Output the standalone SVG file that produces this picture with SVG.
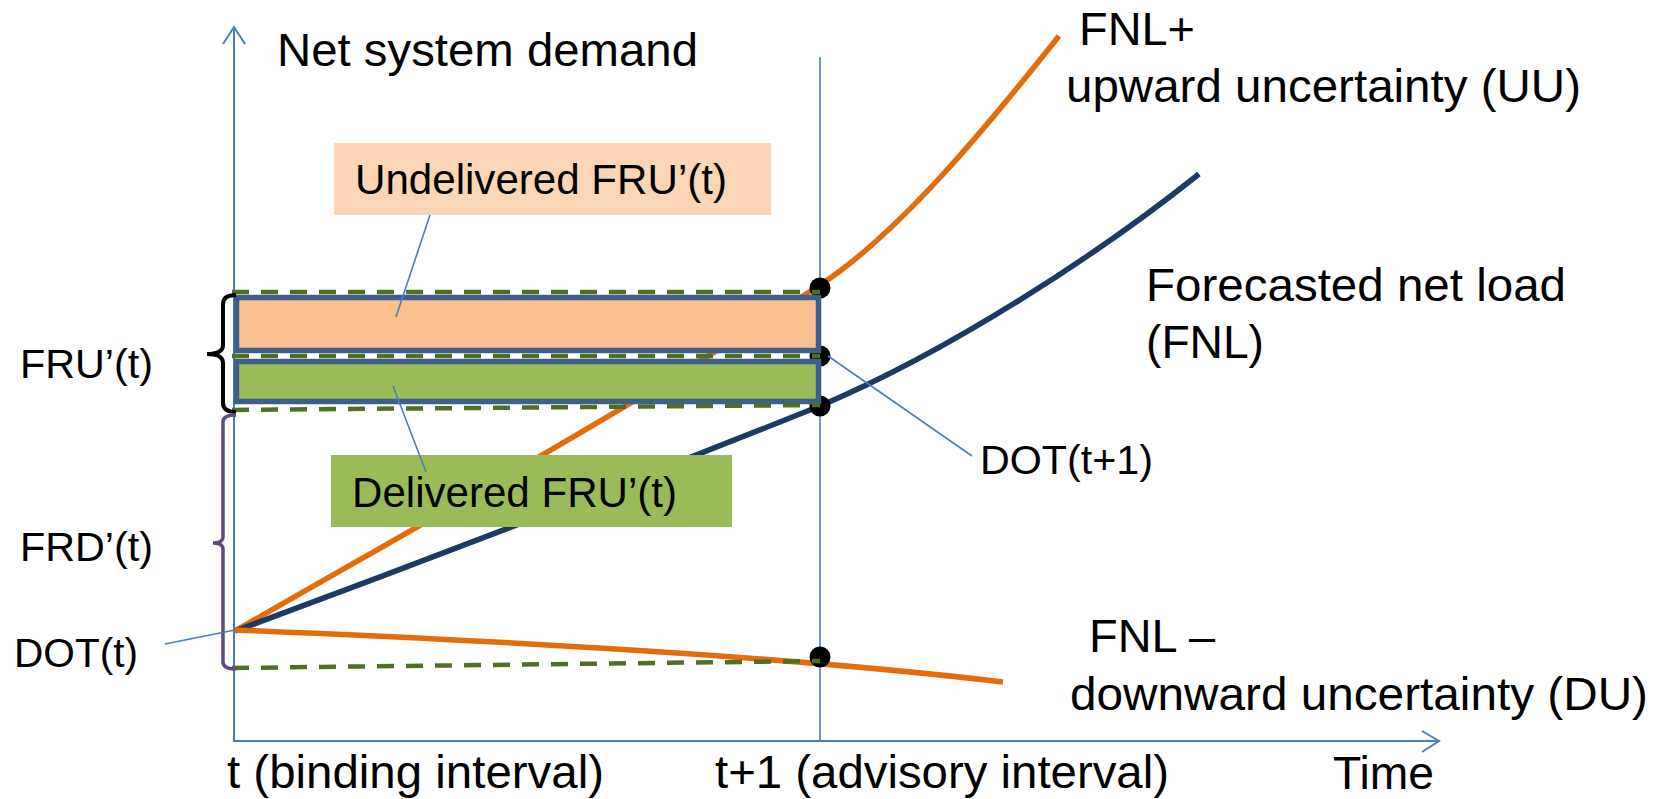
<svg xmlns="http://www.w3.org/2000/svg" width="1667" height="799" viewBox="0 0 1667 799">
<style>
text{font-family:"Liberation Sans",Arial,sans-serif;fill:#000}
.big{font-size:47px}
.mid{font-size:42px}
.sm{font-size:41px}
.axis{stroke:#4a7ebb;stroke-width:2;fill:none}
.lead{stroke:#4a7ebb;stroke-width:1.6;fill:none}
.dash{stroke:#4e7023;stroke-width:4.5;stroke-dasharray:17 12;fill:none}
.orange{stroke:#e46c0a;stroke-width:5.5;fill:none}
.navy{stroke:#1c3a64;stroke-width:5.5;fill:none}
.bar{stroke:#3d5f8a;stroke-width:5.5}
.dot{fill:#000}
</style>
<g id="axes">
<path class="axis" d="M234,741 L234,28"/>
<path class="axis" d="M223,44 L234,27 L245,44"/>
<path class="axis" d="M233,741 L1438,741"/>
<path class="axis" d="M1422,731 L1439,741 L1422,752"/>
<path class="axis" d="M820,57 L820,741" style="stroke-width:1.6"/>
</g>
<g id="curves">
<path id="fnl-up" class="orange" d="M235,631 C430,519 625,412 820,285 C900,233 989,124 1059,36"/>
<path id="fnl" class="navy" d="M235,631 C430,559 625,484 820,406 C950,351 1099,254 1199,174"/>
<path id="fnl-down" class="orange" d="M235,630 Q735,650 1003,682"/>
</g>
<g id="dots">
<circle class="dot" cx="820" cy="288" r="10.5"/>
<circle class="dot" cx="820" cy="356" r="10.5"/>
<circle class="dot" cx="820" cy="406" r="10.5"/>
<circle class="dot" cx="820" cy="657" r="10.5"/>
</g>
<g id="undelivered-bar"><rect class="bar" x="236.5" y="297.5" width="582" height="53" fill="#fac090"/></g>
<g id="delivered-bar"><rect class="bar" x="236.5" y="361.5" width="582" height="40" fill="#9bbb59"/></g>
<g id="dashed-levels">
<path class="dash" d="M232,292 L820,292"/>
<path class="dash" d="M232,356 L820,356"/>
<path class="dash" d="M232,410 L820,405"/>
<path class="dash" d="M232,668 L820,661"/>
</g>
<g id="braces">
<path d="M236,295 Q223,295 223,304 L223,345 Q223,354 207,354 Q223,354 223,363 L223,403 Q223,412 236,412" fill="none" stroke="#000" stroke-width="4"/>
<path d="M236,415 Q223,415 223,422 L223,537 Q223,543 213,543 Q223,543 223,549 L223,662 Q223,669 236,669" fill="none" stroke="#604a7b" stroke-width="3.5"/>
</g>
<g id="label-undelivered">
<rect x="334" y="143" width="437" height="72" fill="#fcd5b5"/>
<text class="mid" x="355" y="194" textLength="372" lengthAdjust="spacingAndGlyphs">Undelivered FRU’(t)</text>
</g>
<g id="label-delivered">
<rect x="331" y="455" width="401" height="72" fill="#9bbb59"/>
<text class="mid" x="352" y="507" textLength="325" lengthAdjust="spacingAndGlyphs">Delivered FRU’(t)</text>
</g>
<g id="leaders">
<path class="lead" d="M430,215 L396,317"/>
<path class="lead" d="M393,386 L426,472"/>
<path class="lead" d="M828,356 L972,456"/>
<path class="lead" d="M165,644 L235,630"/>
</g>
<g id="labels">
<text class="big" x="277" y="66" textLength="421" lengthAdjust="spacingAndGlyphs">Net system demand</text>
<text class="big" x="1079" y="45" textLength="116" lengthAdjust="spacingAndGlyphs">FNL+</text>
<text class="big" x="1066" y="102" textLength="515" lengthAdjust="spacingAndGlyphs">upward uncertainty (UU)</text>
<text class="big" x="1146" y="301" textLength="420" lengthAdjust="spacingAndGlyphs">Forecasted net load</text>
<text class="big" x="1146" y="358" textLength="118" lengthAdjust="spacingAndGlyphs">(FNL)</text>
<text class="sm" x="980" y="474" textLength="173" lengthAdjust="spacingAndGlyphs">DOT(t+1)</text>
<text class="big" x="1089" y="652" textLength="126" lengthAdjust="spacingAndGlyphs">FNL –</text>
<text class="big" x="1070" y="710" textLength="578" lengthAdjust="spacingAndGlyphs">downward uncertainty (DU)</text>
<text class="big" x="227" y="788" textLength="377" lengthAdjust="spacingAndGlyphs">t (binding interval)</text>
<text class="big" x="715" y="788" textLength="454" lengthAdjust="spacingAndGlyphs">t+1 (advisory interval)</text>
<text class="big" x="1333" y="789" textLength="101" lengthAdjust="spacingAndGlyphs">Time</text>
<text class="sm" x="20" y="378" textLength="133" lengthAdjust="spacingAndGlyphs">FRU’(t)</text>
<text class="sm" x="20" y="561" textLength="133" lengthAdjust="spacingAndGlyphs">FRD’(t)</text>
<text class="sm" x="14" y="667" textLength="124" lengthAdjust="spacingAndGlyphs">DOT(t)</text>
</g>
</svg>
